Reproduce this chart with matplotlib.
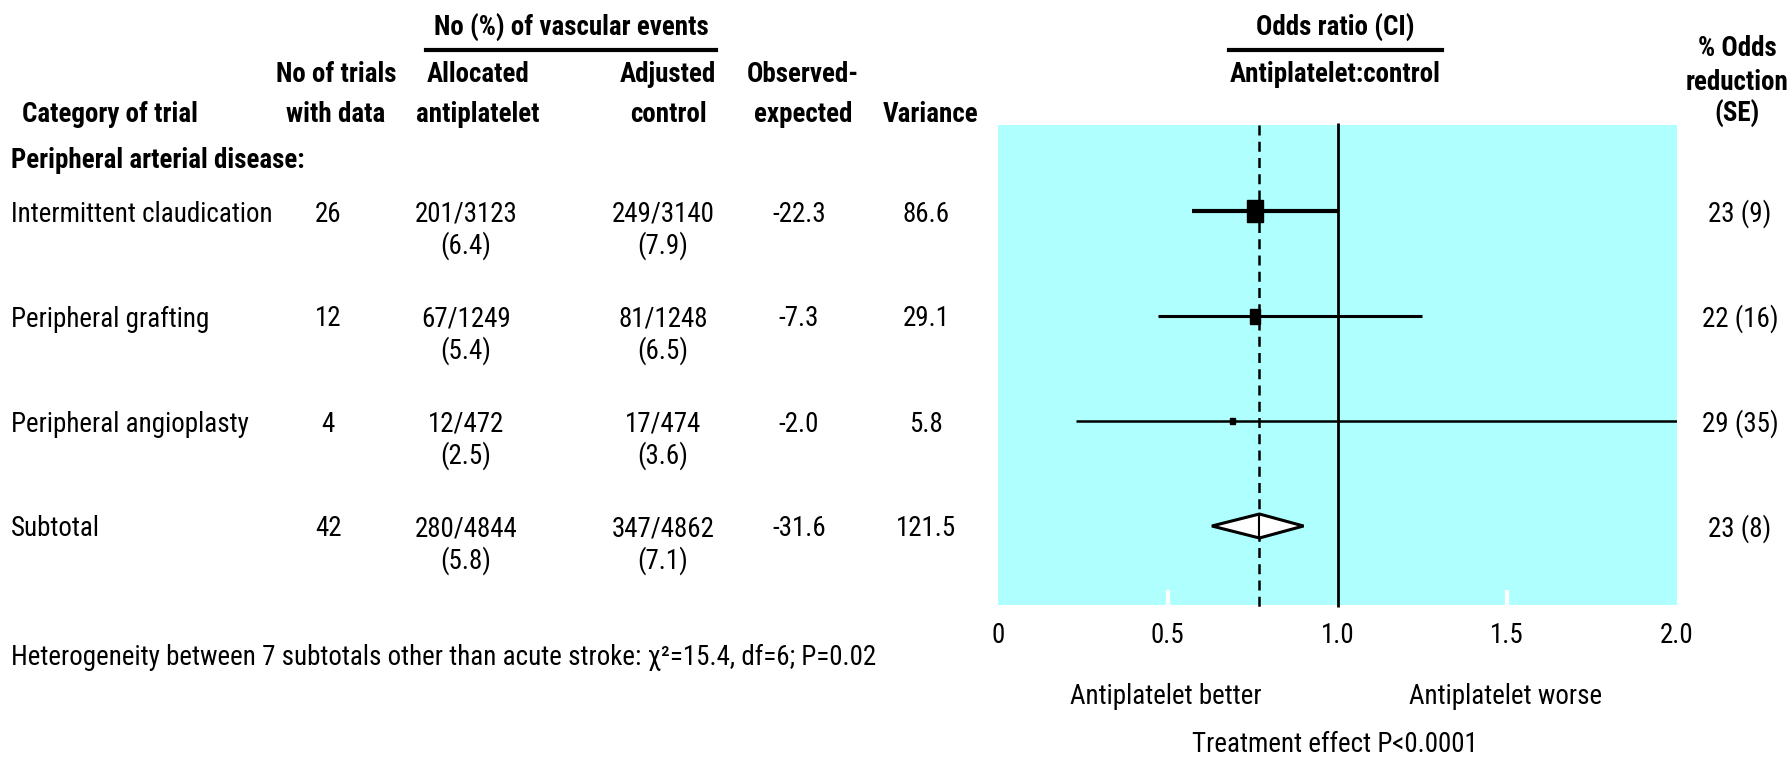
import matplotlib
matplotlib.use("Agg")
import matplotlib.pyplot as plt
from matplotlib import font_manager
from matplotlib.patches import Rectangle, Polygon

# ---------- data ----------
categories = ["Intermittent claudication", "Peripheral grafting",
              "Peripheral angioplasty", "Subtotal"]
n_trials = [26, 12, 4, 42]
antiplatelet_events = ["201/3123", "67/1249", "12/472", "280/4844"]
antiplatelet_pct = ["6.4", "5.4", "2.5", "5.8"]
control_events = ["249/3140", "81/1248", "17/474", "347/4862"]
control_pct = ["7.9", "6.5", "3.6", "7.1"]
obs_minus_exp = [-22.3, -7.3, -2.0, -31.6]
variance = [86.6, 29.1, 5.8, 121.5]
odds_ratio = [0.757, 0.757, 0.69, 0.77]
ci_low = [0.57, 0.47, 0.23, 0.63]
ci_high = [1.0, 1.25, 2.0, 0.90]
odds_reduction = ["23 (9)", "22 (16)", "29 (35)", "23 (8)"]
overall_or = 0.77
x_ticks = [0, 0.5, 1.0, 1.5, 2.0]
x_tick_labels = ["0", "0.5", "1.0", "1.5", "2.0"]

# ---------- font: a condensed sans if one is there ----------
names = {f.name for f in font_manager.fontManager.ttflist}
family = "DejaVu Sans"
for cand in ["Liberation Sans Narrow", "Roboto Condensed", "Archivo Narrow",
             "Sofia Sans Condensed", "Noto Sans"]:
    if cand in names:
        family = cand
        break
plt.rcParams["font.family"] = [family, "DejaVu Sans"]

W, H = 1792, 761
fig = plt.figure(figsize=(W / 100, H / 100), dpi=100)

# fit the font size to the width of a row label in the reference (~261 px)
renderer = fig.canvas.get_renderer()
probe = fig.text(0, 0, "Intermittent claudication", fontsize=20)
FS = 20 * 261 / probe.get_window_extent(renderer).width
probe.remove()

# forest plot panel (cyan box)
x0, x1, ytop, ybot = 998, 1677, 125, 605
ax = fig.add_axes([x0 / W, 1 - ybot / H, (x1 - x0) / W, (ybot - ytop) / H])
ax.set_xlim(0, 2)
ax.set_ylim(ybot, ytop)
ax.set_facecolor("#b0ffff")
for s in ax.spines.values():
    s.set_visible(False)
ax.set_yticks([])
ax.set_xticks(x_ticks, x_tick_labels, fontsize=FS)
ax.tick_params(axis="x", length=0, pad=12)

row_y = [211, 316, 421, 526]
line_w = [3, 2.2, 1.8]
box_w = [0.047, 0.032, 0.014]
box_h = [22, 15, 6]

ax.vlines(1.0, ytop - 2, ybot + 2, color="black", lw=2, zorder=3, clip_on=False)
ax.vlines(overall_or, ytop, ybot + 2, color="black", lw=1.8, ls=(0, (4, 2.5)), zorder=2,
          clip_on=False)
ax.vlines([0.5, 1.5], ybot - 15, ybot, color="white", lw=3, zorder=1)

for i in range(3):
    y = row_y[i]
    ax.hlines(y, ci_low[i], ci_high[i], color="black", lw=line_w[i], zorder=4)
    ax.add_patch(Rectangle((odds_ratio[i] - box_w[i] / 2, y - box_h[i] / 2),
                           box_w[i], box_h[i], color="black", zorder=5))

y = row_y[3]
ax.add_patch(Polygon([(ci_low[3], y), (odds_ratio[3], y - 12), (ci_high[3], y),
                      (odds_ratio[3], y + 12)], closed=True, facecolor="white",
                     edgecolor="black", lw=2.2, zorder=5))
ax.vlines(odds_ratio[3], y - 12, y + 12, color="black", lw=1.5, zorder=6)

# text layer in pixel coordinates
t = fig.add_axes([0, 0, 1, 1], facecolor="none")
t.set_xlim(0, W)
t.set_ylim(H, 0)
t.axis("off")


def txt(x, y, s, ha="center", bold=False):
    t.text(x, y + 3, s, ha=ha, va="center", fontsize=FS,
           fontweight="bold" if bold else "normal")


# headers
txt(571, 25, "No (%) of vascular events", bold=True)
t.plot([426, 716], [50, 50], color="black", lw=3)
txt(1335, 25, "Odds ratio (CI)", bold=True)
t.plot([1229, 1442], [50, 50], color="black", lw=3)

txt(336, 71, "No of trials", bold=True)
txt(336, 111, "with data", bold=True)
txt(478, 71, "Allocated", bold=True)
txt(478, 111, "antiplatelet", bold=True)
txt(668, 71, "Adjusted", bold=True)
txt(668, 111, "control", bold=True)
txt(803, 71, "Observed-", bold=True)
txt(803, 111, "expected", bold=True)
txt(931, 111, "Variance", bold=True)
txt(22, 111, "Category of trial", ha="left", bold=True)
txt(1335, 71, "Antiplatelet:control", bold=True)
txt(1737, 46, "% Odds", bold=True)
txt(1737, 79, "reduction", bold=True)
txt(1737, 111, "(SE)", bold=True)

txt(11, 157, "Peripheral arterial disease:", ha="left", bold=True)

for i, cat in enumerate(categories):
    y = row_y[i]
    txt(11, y, cat, ha="left")
    txt(328, y, str(n_trials[i]))
    txt(466, y, antiplatelet_events[i])
    txt(466, y + 32, f"({antiplatelet_pct[i]})")
    txt(663, y, control_events[i])
    txt(663, y + 32, f"({control_pct[i]})")
    txt(799, y, f"{obs_minus_exp[i]:.1f}")
    txt(926, y, f"{variance[i]:.1f}")
    txt(1740, y, odds_reduction[i])

txt(11, 654, "Heterogeneity between 7 subtotals other than acute stroke: \u03c7\u00b2=15.4, df=6; P=0.02",
    ha="left")
txt(1166, 694, "Antiplatelet better")
txt(1506, 694, "Antiplatelet worse")
txt(1335, 742, "Treatment effect P<0.0001")

fig.savefig("out.png", dpi=100)
